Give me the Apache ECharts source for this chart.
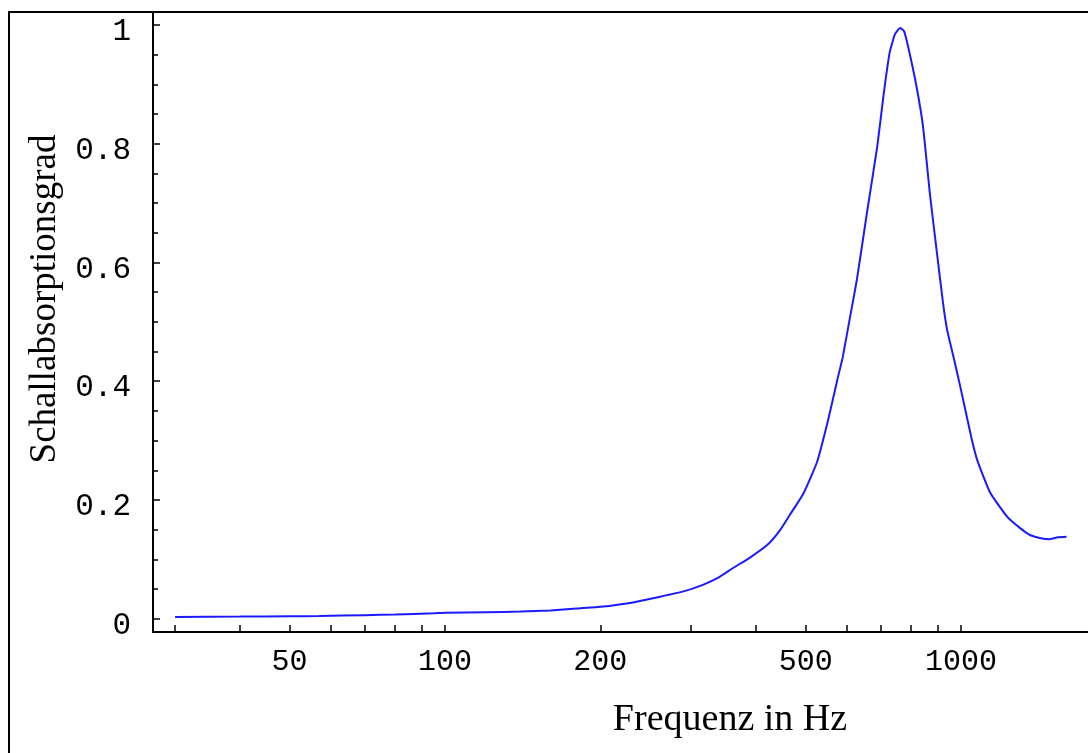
<!DOCTYPE html>
<html>
<head>
<meta charset="utf-8">
<script src="https://cdn.jsdelivr.net/npm/echarts@6/dist/echarts.min.js"></script>
<style>html,body{margin:0;padding:0;background:#fff;}#c{width:1088px;height:753px;}</style>
</head>
<body>
<div id="c"></div>
<script>
// Frequency (Hz) and absorption coefficient
const freqs = [30, 40, 50, 57, 70, 80, 95, 100, 120, 140, 160, 180, 200, 230, 261, 290, 316, 340, 361, 390, 421, 445, 466, 495, 526, 551, 575, 590, 610, 628, 657, 688, 707, 727, 745, 762, 775, 790, 820, 844, 870, 898, 923, 940, 968, 1000, 1046, 1075, 1139, 1228, 1300, 1360, 1420, 1488, 1540, 1601];
const alpha = [0.003, 0.0035, 0.004, 0.0045, 0.006, 0.007, 0.009, 0.010, 0.011, 0.012, 0.014, 0.017, 0.020, 0.027, 0.037, 0.046, 0.057, 0.070, 0.085, 0.103, 0.124, 0.148, 0.175, 0.211, 0.264, 0.330, 0.400, 0.441, 0.510, 0.570, 0.683, 0.795, 0.879, 0.953, 0.985, 0.995, 0.990, 0.963, 0.896, 0.829, 0.717, 0.616, 0.531, 0.486, 0.439, 0.385, 0.307, 0.267, 0.212, 0.172, 0.153, 0.141, 0.136, 0.134, 0.137, 0.138];
const xLabelValues = [50, 100, 200, 500, 1000];
const xTickValues = [30, 40, 50, 60, 70, 80, 90, 100, 200, 300, 400, 500, 600, 700, 800, 900, 1000];
const yLabelValues = [0, 0.2, 0.4, 0.6, 0.8, 1];
const yMinorTickValues = [0.05, 0.1, 0.15, 0.25, 0.3, 0.35, 0.45, 0.5, 0.55, 0.65, 0.7, 0.75, 0.85, 0.9, 0.95];
const xAxisName = 'Frequenz in Hz';
const yAxisName = 'Schallabsorptionsgrad';

const chart = echarts.init(document.getElementById('c'), null, {renderer: 'canvas'});
chart.setOption({
  animation: false,
  backgroundColor: '#fff',
  grid: {left: 153, top: 12, right: 0, bottom: 121, containLabel: false},
  xAxis: {
    type: 'log', logBase: 10, min: 27.18, max: 1762,
    axisLine: {show: true, onZero: false, lineStyle: {color: '#000', width: 2}},
    axisTick: {show: true, inside: true, length: 7, lineStyle: {color: '#000', width: 1.5}, customValues: xTickValues},
    axisLabel: {margin: 15, customValues: xLabelValues, formatter: v => String(Math.round(v)),
      fontFamily: 'Liberation Mono', fontSize: 30, color: '#000'},
    splitLine: {show: false}, minorTick: {show: false}
  },
  yAxis: [{
    type: 'value', min: -0.0224, max: 1.0219,
    axisLine: {show: true, onZero: false, lineStyle: {color: '#000', width: 2}},
    axisTick: {show: true, inside: true, length: 7, lineStyle: {color: '#000', width: 1.5}, customValues: yLabelValues},
    axisLabel: {margin: 22, customValues: yLabelValues, verticalAlign: 'top', lineHeight: 14,
      fontFamily: 'Liberation Mono', fontSize: 31, color: '#000'},
    splitLine: {show: false}
  }, {
    type: 'value', min: -0.0224, max: 1.0219, position: 'left',
    axisLine: {show: false},
    axisTick: {show: true, inside: true, length: 5, lineStyle: {color: '#000', width: 1.5}, customValues: yMinorTickValues},
    axisLabel: {show: false},
    splitLine: {show: false}
  }],
  graphic: [
    {type: 'rect', shape: {x: 9, y: 12, width: 1200, height: 900}, style: {fill: 'none', stroke: '#000', lineWidth: 2}, silent: true, z: 100},
    {type: 'text', x: 730, y: 720, style: {text: xAxisName, font: '38px "Liberation Serif"', fill: '#000', textAlign: 'center', textVerticalAlign: 'middle'}},
    {type: 'text', x: 45, y: 299, rotation: Math.PI / 2, style: {text: yAxisName, font: '37px "Liberation Serif"', fill: '#000', textAlign: 'center', textVerticalAlign: 'middle'}}
  ],
  series: [{
    type: 'line', xAxisIndex: 0, yAxisIndex: 0,
    data: freqs.map((f, i) => [f, alpha[i]]),
    showSymbol: false, smooth: 0.15,
    lineStyle: {color: '#1a1aff', width: 2}
  }]
});
</script>
</body>
</html>
